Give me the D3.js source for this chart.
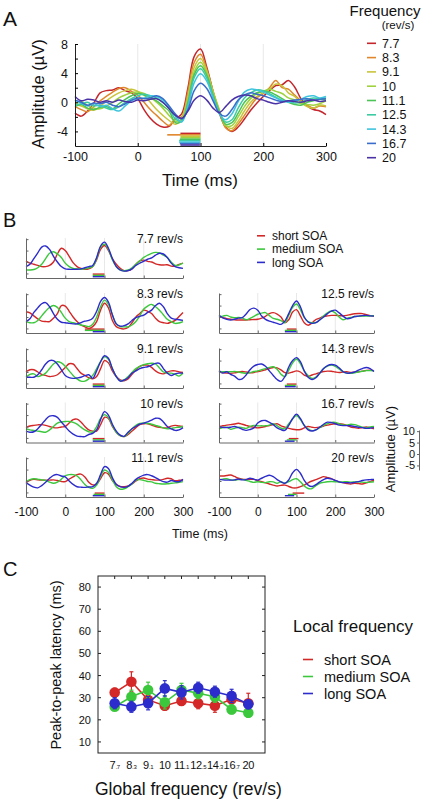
<!DOCTYPE html>
<html><head><meta charset="utf-8">
<script src="https://cdn.jsdelivr.net/npm/d3@7"></script>
<style>body{margin:0;background:#fff}svg{display:block}text{font-family:"Liberation Sans",Arial,Helvetica,sans-serif;fill:#111}</style>
</head><body><svg id="c" width="425" height="804"></svg>
<script>
// ---------- DATA ----------
const times = [-100,-90,-80,-70,-60,-50,-40,-30,-20,-10,0,10,20,30,40,50,60,70,80,90,100,110,120,130,140,150,160,170,180,190,200,210,220,230,240,250,260,270,280,290,300];
const freqLabels = ["7.7","8.3","9.1","10","11.1","12.5","14.3","16.7","20"];
const freqColors = ["#c4262c","#e0862c","#c8c43c","#9fd23e","#4cc456","#3ccaa2","#3ec4de","#3a6ccc","#4a32a6"];

// Panel A: grand averages per global frequency (µV)
const a77  = [-1.5,-1.9,-1.2,-0.1,1.3,1.6,1.7,2.0,1.6,1.3, 0.5,-1.0,-2.2,-3.0,-3.4,-3.3,-2.3,-1.6,2.0,6.3, 7.3,4.8,1.5,-1.5,-3.4,-4.0,-3.4,-2.3,-1.1,-0.1, 0.8,1.6,2.3,2.4,3.0,2.1,0.5,-0.5,-1.0,-1.2, -1.7];
const a83  = [-0.6,-1.0,-1.3,-0.6,0.2,0.8,1.4,1.9,2.0,1.5, 1.0,0.0,-1.0,-1.8,-2.6,-3.2,-2.2,-2.0,1.5,5.5, 6.6,4.5,1.5,-1.2,-3.5,-3.9,-3.0,-1.8,-0.5,0.6, 1.2,2.0,3.0,2.0,1.8,1.0,0.2,-0.4,-0.8,-0.5, -0.6];
const a91  = [-0.3,-0.5,-0.9,-1.1,-0.6,0.2,0.8,1.3,1.6,1.8, 1.5,1.0,0.0,-1.0,-1.8,-2.5,-3.0,-2.2,0.8,4.8, 6.0,4.3,1.5,-1.0,-3.2,-3.6,-2.6,-1.2,0.0,0.8, 1.3,1.8,2.5,2.3,1.3,0.8,0.0,-0.6,-0.8,-0.4, -0.5];
const a10  = [-0.2,0.1,-0.4,-0.8,-0.9,-0.5,0.0,0.6,1.0,1.3, 1.4,1.2,0.7,0.0,-0.8,-1.8,-2.6,-2.3,0.3,4.2, 5.5,4.0,1.3,-1.2,-3.2,-3.2,-2.0,-0.6,0.5,1.2, 1.5,1.8,1.5,1.2,0.6,0.3,-0.2,-0.3,-0.4,-0.2, 0.2];
const a111 = [-0.6,-0.3,-0.8,-1.0,-0.7,-0.6,-0.9,-0.2,0.4,0.9, 1.2,1.0,0.6,0.2,-0.5,-1.2,-2.8,-2.6,0.0,3.8, 5.0,3.7,1.0,-1.3,-3.0,-2.8,-1.5,0.0,0.8,1.3, 1.5,1.4,1.0,0.5,0.0,-0.3,-0.4,0.0,0.2,0.4, 0.3];
const a125 = [-0.4,-0.2,0.0,-0.5,-0.4,-0.8,-1.0,-0.6,0.0,0.5, 0.9,1.1,0.9,0.6,0.0,-0.8,-2.3,-2.6,-0.3,3.4, 4.6,3.3,0.8,-1.4,-2.7,-2.4,-0.8,0.6,1.3,1.7, 1.6,1.2,0.7,0.3,0.1,-0.1,0.0,0.4,0.6,0.5, 0.6];
const a143 = [0.3,-0.1,-0.5,-0.2,-0.6,-0.4,-0.9,-1.2,-0.5,0.2, 0.5,0.6,0.9,0.8,0.3,-0.6,-1.9,-2.7,-0.6,2.7, 3.9,2.9,0.6,-1.6,-2.4,-1.6,0.1,1.4,1.8,1.7, 1.4,1.0,0.6,0.2,0.0,0.2,0.4,0.8,0.9,0.6, 0.8];
const a167 = [0.3,0.0,-0.4,-0.1,-0.2,0.0,-0.4,-0.6,-0.2,0.3, 0.6,0.5,0.6,0.9,0.5,-0.5,-1.6,-2.3,-1.0,1.6, 2.6,1.9,0.2,-1.5,-1.9,-1.0,0.3,1.0,1.3,1.1, 0.9,0.6,0.3,0.1,0.2,0.3,0.4,0.5,0.3,0.4, 0.5];
const a20  = [0.8,0.2,0.4,0.3,0.0,0.2,0.0,0.3,0.1,0.0, 0.3,0.2,0.4,0.5,0.0,-0.9,-1.8,-2.2,-1.2,0.3, 0.9,0.3,-0.8,-1.4,-0.6,0.3,0.8,1.0,0.9,0.5, 0.3,0.0,-0.2,0.0,0.2,0.1,0.0,0.2,0.3,0.1, 0.2];
const sigStartA = [68,47,68,68,67,66,66,67,68];
const sigEndA   = [100,100,100,100,100,100,100,99,99];

// Panel B: per SOA condition
const condLabels = ["short SOA","medium SOA","long SOA"];
const condColors = ["#d42828","#3cc83c","#2c2ccc"];
const b77s = [0.4,-0.5,-1,-1.5,-2,-2,-1.5,0,3.5,6, 5,2.5,-0.3,-2,-2.8,-3.2,-3,-2,1,5.5, 7.2,5,1.5,-1,-2.8,-3.8,-3.8,-3,-1,0.5, 0.8,0.3,0,-0.8,-1.2,-1.3,-1.2,-1.8,-1.8,-1, -0.5];
const b77m = [-3.5,-3.5,-3.3,-2.5,-1,1.5,3.8,4.5,3.5,2, -0.5,-2,-2.8,-3,-3.2,-3,-2.5,-2,1.5,6.5, 7.8,5.5,1,-2,-3.5,-3.8,-3.5,-2.5,-1,0.5, 2,3,3.8,4.2,4,3,2,0,-1.5,-1.3, -0.5];
const b77l = [-2,-1,1.5,4,6.5,7,5.5,2.5,0,-2, -3,-3.2,-3.2,-3.2,-3,-2.5,-2,-1.5,2,7, 8.7,6,1.5,-2,-3.5,-4,-3.8,-3,-1.5,-0.5, 0.3,1.2,1.8,3,3.8,3.5,2,-0.5,-2,-2.5, -2.8];
const b83s = [2.3,1.8,0.5,-0.8,-1.8,-2,-2,-0.5,1.5,5, 4.8,2.5,0,-2,-3.5,-4.3,-5,-4.2,-2,3, 6,4,-1.5,-4.2,-5,-5.2,-4.6,-2.5,0,1.5, 3,2.5,1.5,-0.5,-2,-2.5,-2.8,-2.2,-1.5,0.2, 2];
const b83m = [-2,-2.5,-2.5,-1.5,0.5,2.5,4.2,5,4.2,2, -0.5,-2,-2.5,-3,-3.5,-3.8,-4.2,-3.2,0,4.5, 7.4,5.5,1,-3,-4.2,-4.3,-4.3,-3.5,-2,0.5, 3.5,4.8,5.5,4.5,3,1,-1,-2,-2.8,-2.6, -2];
const b83l = [-2,-0.8,2,4,5.8,6.3,4.5,1.5,-1,-2.3, -2.5,-2.8,-3,-3,-2.5,-1.8,-1.5,-0.5,2.5,6.8, 8.5,6.5,1,-3,-4,-3.8,-3,-1.5,-0.3,0.3, 0.8,2,3,5,6,4.5,1.5,-0.5,-1,-1.2, -1.5];
const b91s = [0.1,1,1,0,-1,-1.5,-2,-1.8,-1.2,0.3, 2,3.6,3.5,1.5,-0.5,-1.5,-2.5,-3,-2,1.5, 5,4,0.5,-2,-3.5,-3.8,-3,-1,1,2.5, 3,3,2,0.5,-0.5,-0.8,0,0.5,0.5,0, -0.2];
const b91m = [-2.3,-1,-0.8,-2,-1.5,-0.5,1.5,3.5,4.5,4, 2.5,0.5,-1.5,-3,-4,-4,-3,-1.5,1.5,4.5, 6.7,5.5,1.5,-2,-3.8,-3.5,-2,-0.2,1.5,2.5, 3.2,3.6,3.8,3.5,1.8,0,-0.5,-0.5,-1,-1.8, -0.5];
const b91l = [-2.3,-2.3,-2.3,-1.2,1,3.5,5,5,3.5,1, -1.5,-2.5,-2.8,-2.6,-2.3,-1.6,-1.2,-2.8,0.5,4.5, 7.1,6,1.5,-2,-4,-3.5,-2.5,-0.5,0.5,1.5, 2,2.3,3,3.8,3.8,1.5,-0.5,-1.5,-0.8,-0.5, -0.5];
const b10s = [-0.5,0.2,0.5,0.7,0.8,0.5,0,-0.5,-0.6,-0.2, 0,1.5,3,3.2,2,0,-1.5,-2,-2,0.8, 4,3.5,0,-2.5,-4,-4.4,-3.5,-2,-0.5,0.8, 1.2,1.2,0.6,0,-0.4,-0.6,-0.6,0.2,0.5,0.2, 0];
const b10m = [-1,-1.5,-1.7,-2,-2.3,-2.5,-1.5,0,1.5,2, 2.2,2.2,1.8,1,-0.3,-1.5,-2.3,-2.5,0,3.5, 5.2,4,0.5,-2.5,-4,-4.4,-3,-1,0.5,1.3, 1.5,1.3,1,0.5,0,-0.6,-1,-0.8,-0.5,-0.3, 0];
const b10l = [-2,-2.5,-2.3,-1,1,3,4.5,4.7,4,2, 0,-2,-3.3,-4.2,-4.4,-4.4,-3.5,-3,-1.5,3, 6.5,5,1,-2,-3.8,-4.3,-2.5,-1,0,1, 1.5,2,2.8,3.6,3.5,2,0,-1,-1.7,-1.5, -0.5];
const b111s = [-0.7,0.3,0.7,0.5,0.4,0.4,0.4,0.5,0.2,-0.2, -0.3,0.8,1.8,2.8,3,1.8,-0.5,-1.7,-1.3,1, 3.6,3,0.2,-1.5,-2.4,-2.5,-2.2,-1.3,0,1, 1.3,0.8,0.6,0.4,0.4,0.7,1.2,1,0.1,0.3, 0.4];
const b111m = [-0.3,0.6,1,0.8,0.5,0.3,-0.5,-1,-0.5,0.8, 2.3,2.8,2.8,2.2,0.5,-1.5,-2.8,-3.2,-1.8,2, 4.8,3.8,0.5,-2.5,-3.6,-3.4,-2.5,-1.3,0.4,0.6, 0.3,-0.2,-0.4,-1,-1.2,-1.3,-1.2,-1,-0.8,-0.6, -0.3];
const b111l = [-0.7,-1.8,-2.7,-3,-2,-0.5,1.2,2.5,2.8,2.2, 1.8,0,-1.5,-2.5,-2.7,-2.8,-2.6,-2.5,-1,2.8, 6.3,5.5,1.5,-1.5,-2.5,-2.8,-2.3,-1,0.7,1.8, 2.6,2.8,2.3,1.5,0.5,-0.3,-0.5,0.2,-0.2,-0.3, 0.7];
const b125s = [0.1,-0.3,-0.7,-1,-1.2,-1.3,-1.3,-1.3,-1.2,-1.1, -1,-0.5,0.3,1.5,1.9,1.3,0,-2.4,-1.2,2.2, 3.2,0.5,-2.5,-3.6,-2.6,-1.1,-0.5,0.2,0.5,0.7, 0.7,0.6,0.5,0.7,1.1,1.4,1.5,1.5,1,0.6, 0.4];
const b125m = [0.1,0.4,0.7,0,-0.3,-0.2,-0.4,-1.2,-0.6,0.3, 1.2,1.7,1.9,0.6,-0.6,-1,-1.6,-2.5,0.8,4.2, 5.7,3.2,-0.3,-2,-2.5,-2.4,-1.2,0.5,1.8,2.6, 1.8,0,-1.2,-0.6,-0.2,0.2,0.3,0.4,0.4,0.5, 0.6];
const b125l = [0.7,-0.4,-1,-1.3,-1,-0.5,-0.3,1.3,3.3,3.9, 3,0.4,-1,-1.8,-2.3,-2.8,-3.2,-1.8,1.5,5, 7,4.5,0,-2.2,-2.8,-2.5,-1.3,0,1.5,2.6, 3,1.8,0.4,-0.7,-0.5,0.2,0.4,0.6,0.7,0.5, 0.4];
const b143s = [0.1,-0.2,-0.5,-0.6,-0.4,0,0.2,0,-0.3,-0.2, 0.2,0.5,1,1.5,2,1.8,0.9,-0.3,-0.5,0, 0.5,0,-1.4,-2,-1.3,-0.8,-0.3,0.2,0.4,0.3, 0,-0.2,0,0.1,-0.2,-0.1,0.1,0.4,0.7,0.8, 0.6];
const b143m = [-0.1,0.1,0.1,0.1,0.2,0,-0.3,-0.6,-0.3,0.2, 0.5,1,1.5,2,2.3,1.2,-1,-2,0.8,4, 5.7,3.7,0.5,-1.5,-2.8,-2.2,-0.5,1.5,2.6,3, 2.5,1.3,0.2,-0.5,-0.6,-0.3,0,0.3,0.6,0.6, 0.5];
const b143l = [0.6,-0.5,0.1,-1,-1.8,-3.2,-3,-1.3,1,2.6, 3.3,3.5,2.5,0.5,-1.5,-3.3,-4.1,-2,2.2,5, 6.3,4.5,0.5,-2.3,-3.3,-2.5,-0.5,1.5,2.8,3.3, 3,1.8,0.2,-0.5,-0.4,0,0.8,1.5,2,1.5, 0.2];
const b167s = [0,0.3,0.6,0.8,1.1,1.4,1,0.5,0,-0.3, -0.6,-0.3,0,0.4,0.8,1.2,0.3,-0.3,-0.8,-1.2, -1.4,-1.3,-0.6,0,-0.3,-0.5,-0.3,0.2,0.6,1, 1.2,1.2,1,0.5,-0.2,-0.5,-0.8,-0.5,-0.2,-0.5, -1];
const b167m = [-1,-0.5,-0.3,-1.2,-0.8,-0.3,-0.5,-0.8,0,0.5, 0.3,0.3,0.3,0.6,1.2,0.3,-0.7,-1,1.2,3.3, 4.8,3,0.5,-1,-1.8,-1.5,-0.5,0.5,1.2,1.8, 1.8,1.2,0.7,0.6,1,0.8,0.3,-0.3,-0.6,-0.2, 0];
const b167l = [-0.3,-0.4,-0.5,-0.3,0,-0.5,-1.2,-1.7,-1.3,-0.6, 1.5,2.5,2.6,1.8,0.8,-0.6,-1.4,-1.7,0.5,3.5, 5.4,3.5,0.5,-1.5,-2,-1.5,-0.3,1,1.9,1.7, 1.2,0.6,0.4,0.4,0.3,0,-0.3,-0.5,-0.8,-0.7, -0.5];
const b20s = [2.2,2.2,2.4,2.6,2,1.2,0.8,0.7,0.7,0.7, 0.2,-0.3,-0.8,-1.3,-1.8,-2.2,-1.9,-1.8,-2.4,-3, -3,-2.5,-1.8,-0.8,0,0.6,1.3,1.9,1.5,1, 0.2,-0.4,-0.7,-1.1,-1.3,-1,-1.1,-1.3,-0.8,-0.3, 0.4];
const b20m = [0.4,0.8,1,0.5,0.4,0.6,0.7,0.3,-0.2,-0.6, -0.3,-0.6,-0.7,-0.3,-0.4,-1,-0.3,-1,-0.3,0.6, 1.0,-0.3,-2.2,-3.3,-3.3,-2,-1,-0.6,-0.3,-0.2, -0.3,-0.5,-0.4,-0.3,-0.5,-0.4,-0.3,-0.5,-0.6,-0.5, -0.3];
const b20l = [0.7,0.5,0.4,0.4,0.5,0.8,0.5,0.6,1.2,0.8, 0.4,1.2,2,2.5,1.9,0.6,-0.4,-1,0.5,3.6, 5.1,3.4,0.3,-1.8,-2.4,-1.6,-0.4,0.6,1.2,0.9, 0.3,-0.4,-0.7,-0.7,-0.8,-0.6,-0.3,0.2,0.5,0.6, 0.7];
// significance windows [start, end] ms for short / medium / long
const sig77 = [[70,100],[70,100],[70,100]];
const sig83 = [[50,100],[50,100],[70,100]];
const sig91 = [[70,100],[70,100],[70,100]];
const sig10 = [[70,100],[70,100],[70,100]];
const sig111 = [[75,100],[72,100],[70,100]];
const sig125 = [[75,100],[70,100],[70,100]];
const sig143 = [[75,100],[70,98],[70,98]];
const sig167 = [[80,105],[75,100],[70,95]];
const sig20 = [[90,120],[78,100],[70,94]];
const scaleTicksB = [10,5,0,-5];

// Panel C: peak-to-peak latency (ms)
const latCats = ["7.7","8.3","9.1","10","11.1","12.5","14.3","16.7","20"];
const latShort  = [32.3,37.2,29,26.4,28.5,27.5,26.4,29.3,27.5];
const errShort  = [2,4.5,2.5,2,2,2.5,3,3,4.5];
const latMedium = [25.9,30.4,33.5,27.9,33.5,32,30.4,24.7,23.2];
const errMedium = [1.5,3,3.5,3,3,2.5,2.5,2,2];
const latLong   = [27.5,25.9,27.5,34.2,32.4,34.5,32.7,30.8,27];
const errLong   = [2.5,2.5,3,3.5,3,2.5,2.5,3,2];
const latTicks = [10,20,30,40,50,60,70,80];

// ---------- DRAWING ----------
const svg = d3.select("#c");
function label(g, x, y, s, size, anchor) {
  return g.append("text").attr("x", x).attr("y", y).attr("font-size", size)
    .attr("text-anchor", anchor || "start").text(s);
}
const smooth = d3.curveCatmullRom.alpha(0.5);

// ===== Panel A =====
const gA = svg.append("g");
label(gA, 3, 26, "A", 21);
const xA = d3.scaleLinear().domain([-100, 300]).range([75, 326]);
const yA = d3.scaleLinear().domain([-6, 8]).range([146, 44]);
[0, 100, 200].forEach(t => gA.append("line").attr("x1", xA(t)).attr("x2", xA(t))
  .attr("y1", yA(8)).attr("y2", yA(-6)).attr("stroke", "#e2e2e2").attr("stroke-width", 0.8));
const ampA = [a77, a83, a91, a10, a111, a125, a143, a167, a20];
ampA.forEach((arr, i) => {
  gA.append("path").attr("fill", "none").attr("stroke", freqColors[i]).attr("stroke-width", 1.5)
    .attr("d", d3.line().x((d, j) => xA(times[j])).y(d => yA(d)).curve(smooth)(arr));
});
sigStartA.forEach((s, i) => {
  gA.append("rect").attr("x", xA(s)).attr("width", xA(sigEndA[i]) - xA(s))
    .attr("y", 132.6 + i * 1.45).attr("height", 1.6).attr("fill", freqColors[i]);
});
const axA_L = gA.append("g").attr("transform", "translate(75,0)")
  .call(d3.axisLeft(yA).tickValues([-4,-2,0,2,4,6,8]).tickSize(-3).tickSizeOuter(0).tickPadding(7)
  .tickFormat(d => d % 4 === 0 ? String(d) : ""));
const axA_B = gA.append("g").attr("transform", "translate(0,146)")
  .call(d3.axisBottom(xA).tickValues([-100,0,100,200,300]).tickSize(-3).tickSizeOuter(0).tickPadding(6)
  .tickFormat(d => String(d)));
[axA_L, axA_B].forEach(a => { a.selectAll("text").attr("font-size", 12.5).attr("font-family", null); a.attr("font-family", null); a.select(".domain").attr("stroke", "#222"); });
gA.append("text").attr("transform", "translate(43.5,94) rotate(-90)").attr("text-anchor", "middle")
  .attr("font-size", 16.5).text("Amplitude (µV)");
label(gA, 200, 186, "Time (ms)", 17, "middle");
// legend A
label(gA, 385, 16, "Frequency", 15, "middle");
label(gA, 398, 28.5, "(rev/s)", 11.5, "middle");
freqLabels.forEach((f, i) => {
  const y = 43.3 + i * 14.3;
  gA.append("line").attr("x1", 367).attr("x2", 376).attr("y1", y).attr("y2", y)
    .attr("stroke", freqColors[i]).attr("stroke-width", 1.6);
  label(gA, 382, y + 4.4, f, 12.5);
});

// ===== Panel B =====
const gB = svg.append("g");
label(gB, 3, 227, "B", 20);
const xBL = d3.scaleLinear().domain([-100, 300]).range([26, 183]);
const xBR = d3.scaleLinear().domain([-100, 300]).range([219, 374]);
const rowBottoms = [278, 333, 388, 442.5, 497];
const panelsB = [
  {f: "7.7", col: 0, row: 0, s: b77s, m: b77m, l: b77l, sig: sig77},
  {f: "8.3", col: 0, row: 1, s: b83s, m: b83m, l: b83l, sig: sig83},
  {f: "9.1", col: 0, row: 2, s: b91s, m: b91m, l: b91l, sig: sig91},
  {f: "10", col: 0, row: 3, s: b10s, m: b10m, l: b10l, sig: sig10},
  {f: "11.1", col: 0, row: 4, s: b111s, m: b111m, l: b111l, sig: sig111},
  {f: "12.5", col: 1, row: 1, s: b125s, m: b125m, l: b125l, sig: sig125},
  {f: "14.3", col: 1, row: 2, s: b143s, m: b143m, l: b143l, sig: sig143},
  {f: "16.7", col: 1, row: 3, s: b167s, m: b167m, l: b167l, sig: sig167},
  {f: "20", col: 1, row: 4, s: b20s, m: b20m, l: b20l, sig: sig20}
];
panelsB.forEach(p => {
  const xs = p.col === 0 ? xBL : xBR;
  const bottom = rowBottoms[p.row];
  const ys = d3.scaleLinear().domain([-7, 10.5]).range([bottom, bottom - 40]);
  const g = gB.append("g");
  [0, 100, 200].forEach(t => g.append("line").attr("x1", xs(t)).attr("x2", xs(t))
    .attr("y1", ys(10.5)).attr("y2", ys(-7)).attr("stroke", "#e2e2e2").attr("stroke-width", 0.8));
  [p.s, p.m, p.l].forEach((arr, k) => {
    g.append("path").attr("fill", "none").attr("stroke", condColors[k]).attr("stroke-width", 1.4)
      .attr("d", d3.line().x((d, j) => xs(times[j])).y(d => ys(d)).curve(smooth)(arr));
  });
  p.sig.forEach((w, k) => {
    g.append("rect").attr("x", xs(w[0])).attr("width", xs(w[1]) - xs(w[0]))
      .attr("y", bottom - 4.6 + k * 1.3).attr("height", 1.4).attr("fill", condColors[k]);
  });
  const aL = g.append("g").attr("transform", `translate(${xs(-100)},0)`)
    .call(d3.axisLeft(ys).tickValues([-5, 0, 5, 10]).tickSize(-2.5).tickSizeOuter(0).tickFormat(""));
  const isBottom = p.row === 4;
  const aB = g.append("g").attr("transform", `translate(0,${bottom})`)
    .call(d3.axisBottom(xs).tickValues([-100, 0, 100, 200, 300]).tickSize(-2.5).tickSizeOuter(0).tickPadding(10)
    .tickFormat(d => isBottom ? String(d) : ""));
  [aL, aB].forEach(a => { a.attr("font-family", null); a.selectAll("text").attr("font-size", 12);
    a.selectAll("line").attr("stroke", "#666"); a.select(".domain").attr("stroke", "#666"); });
  label(g, xs(300), bottom - 35, p.f + " rev/s", 12, "end");
});
label(gB, 200, 538, "Time (ms)", 12.5, "middle");
// legend B
condLabels.forEach((c, k) => {
  const y = 235.8 + k * 13.3;
  gB.append("line").attr("x1", 257).attr("x2", 265).attr("y1", y).attr("y2", y)
    .attr("stroke", condColors[k]).attr("stroke-width", 1.6);
  label(gB, 272, y + 4.2, c, 12);
});
// amplitude scale bar
const yScaleB = d3.scaleLinear().domain([-7, 10.5]).range([470, 430]);
const aS = gB.append("g").attr("transform", "translate(419,0)")
  .call(d3.axisLeft(yScaleB).tickValues(scaleTicksB).tickSize(2).tickSizeOuter(0).tickPadding(2)
  .tickFormat(d => String(d)));
aS.attr("font-family", null); aS.selectAll("text").attr("font-size", 11);
aS.selectAll("line").attr("stroke", "#666"); aS.select(".domain").attr("stroke", "#666");
gB.append("text").attr("transform", "translate(395,449) rotate(-90)").attr("text-anchor", "middle")
  .attr("font-size", 13).text("Amplitude (µV)");

// ===== Panel C =====
const gC = svg.append("g");
label(gC, 3, 576, "C", 20);
const xC = d3.scaleLinear().domain([-1, 9]).range([98, 265]);
const yC = d3.scaleLinear().domain([5, 85]).range([753, 576]);
gC.append("rect").attr("x", 98).attr("y", 576).attr("width", 167).attr("height", 177)
  .attr("fill", "none").attr("stroke", "#222").attr("stroke-width", 1);
latTicks.forEach(t => {
  label(gC, 91, yC(t) + 4, String(t), 11, "end");
  gC.append("line").attr("x1", 265).attr("x2", 262).attr("y1", yC(t)).attr("y2", yC(t)).attr("stroke", "#222");
  gC.append("line").attr("x1", 98).attr("x2", 101).attr("y1", yC(t)).attr("y2", yC(t)).attr("stroke", "#222");
});
latCats.forEach((c, i) => {
  gC.append("line").attr("x1", xC(i)).attr("x2", xC(i)).attr("y1", 576).attr("y2", 579).attr("stroke", "#222");
  const parts = c.split(".");
  const t = gC.append("text").attr("x", xC(i)).attr("y", 769).attr("text-anchor", "middle")
    .attr("font-size", 11).attr("letter-spacing", -0.3);
  t.append("tspan").text(parts[0]);
  if (parts[1]) t.append("tspan").attr("font-size", 6).text("." + parts[1]);
});
const seriesC = [[latShort, errShort], [latMedium, errMedium], [latLong, errLong]];
seriesC.forEach(([vals, errs], k) => {
  const col = condColors[k];
  vals.forEach((v, i) => {
    gC.append("line").attr("x1", xC(i)).attr("x2", xC(i)).attr("y1", yC(v - errs[i])).attr("y2", yC(v + errs[i]))
      .attr("stroke", col).attr("stroke-width", 1.2);
    [v - errs[i], v + errs[i]].forEach(e => gC.append("line").attr("x1", xC(i) - 2).attr("x2", xC(i) + 2)
      .attr("y1", yC(e)).attr("y2", yC(e)).attr("stroke", col).attr("stroke-width", 1.2));
  });
  gC.append("path").attr("fill", "none").attr("stroke", col).attr("stroke-width", 1.6)
    .attr("d", d3.line().x((d, i) => xC(i)).y(d => yC(d))(vals));
  vals.forEach((v, i) => gC.append("circle").attr("cx", xC(i)).attr("cy", yC(v)).attr("r", 5.3).attr("fill", col));
});
gC.append("text").attr("transform", "translate(60.5,665) rotate(-90)").attr("text-anchor", "middle")
  .attr("font-size", 14.5).text("Peak-to-peak latency (ms)");
label(gC, 95, 795, "Global frequency (rev/s)", 17.5);
label(gC, 293, 632, "Local frequency", 17);
condLabels.forEach((c, k) => {
  const y = 659.5 + k * 17;
  gC.append("line").attr("x1", 303).attr("x2", 313).attr("y1", y).attr("y2", y)
    .attr("stroke", condColors[k]).attr("stroke-width", 1.6);
  label(gC, 324, y + 5, c, 14.5);
});
</script></body></html>
